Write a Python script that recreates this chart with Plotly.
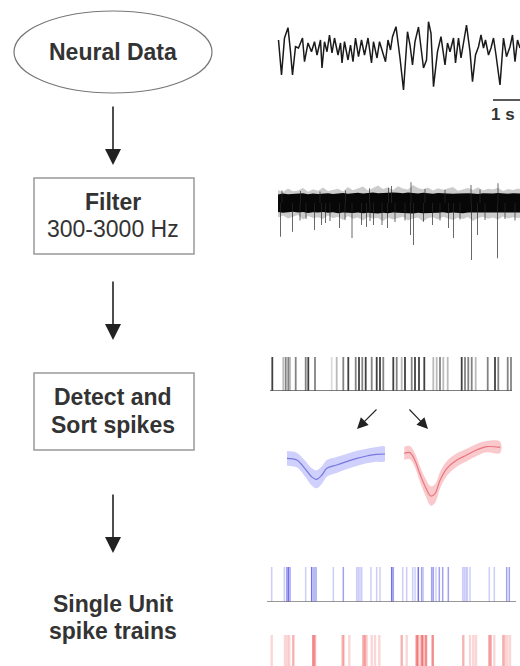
import plotly.graph_objects as go

W, H = 520, 666

# ---------------- data ----------------
# Wideband recording (time in s, voltage in µV)
raw_t = [0.17, 0.23, 0.29, 0.36, 0.41, 0.45, 0.51, 0.57, 0.65, 0.69,
         0.76, 0.83, 0.89, 0.94, 1.01, 1.04, 1.09, 1.14, 1.19, 1.24,
         1.29, 1.36, 1.41, 1.44, 1.49, 1.56, 1.61, 1.66, 1.71, 1.77,
         1.83, 1.89, 1.96, 2.03, 2.07, 2.14, 2.19, 2.26, 2.31, 2.36,
         2.41, 2.45, 2.52, 2.60, 2.67, 2.75, 2.80, 2.85, 2.90, 2.97,
         3.03, 3.07, 3.13, 3.17, 3.22, 3.27, 3.35, 3.42, 3.50, 3.55,
         3.60, 3.67, 3.71, 3.77, 3.82, 3.87, 3.93, 4.00, 4.05, 4.11,
         4.17, 4.22, 4.27, 4.31, 4.37, 4.42, 4.47, 4.52, 4.60, 4.67,
         4.73, 4.80, 4.85, 4.90, 4.95, 5.00]
raw_uv = [100, -250, 120, 223, -17, -250, 33, 20, 120, -117,
          70, -17, 83, -50, 100, -180, 83, -17, 150, -30,
          120, -50, 70, -130, 83, -100, 50, -117, 120, -67,
          100, -50, 120, -130, 83, -80, 83, -30, -117, 100,
          0, 133, 233, -80, -400, 183, 50, -150, 83, 230,
          -50, -180, -100, 283, 167, -367, -17, 133, -150, 70,
          -17, 120, -130, 120, -80, 83, 250, -17, -317, -50,
          33, 150, 20, 100, -50, 20, 120, -50, -350, 120,
          -67, 33, 150, -117, 100, 20]

# Band-passed (300-3000 Hz) trace: background noise envelope (s, µV)
filt_t = [0.16, 0.26, 0.36, 0.46, 0.56, 0.66, 0.76, 0.86, 0.96, 1.06,
          1.16, 1.26, 1.36, 1.46, 1.56, 1.66, 1.76, 1.86, 1.96, 2.06,
          2.16, 2.26, 2.36, 2.46, 2.56, 2.66, 2.76, 2.86, 2.96, 3.06,
          3.16, 3.26, 3.36, 3.46, 3.56, 3.66, 3.76, 3.86, 3.96, 4.06,
          4.16, 4.26, 4.36, 4.46, 4.56, 4.66, 4.76, 4.86, 4.96, 5.06]
filt_core_hi = [34, 38, 35, 37, 36, 39, 35, 38, 36, 37,
                39, 36, 38, 40, 37, 39, 41, 38, 40, 42,
                39, 41, 40, 42, 41, 39, 42, 40, 38, 41,
                39, 37, 40, 38, 39, 37, 38, 40, 39, 38,
                36, 39, 37, 38, 40, 38, 37, 39, 38, 38]
filt_core_lo = [-36, -39, -37, -35, -38, -36, -40, -37, -38, -36,
                -39, -37, -41, -38, -39, -40, -38, -41, -39, -40,
                -42, -39, -41, -38, -40, -39, -41, -42, -39, -41,
                -38, -40, -39, -37, -40, -38, -39, -41, -38, -39,
                -40, -38, -37, -39, -38, -40, -39, -37, -38, -38]
filt_edge_hi = [52, 44, 58, 47, 50, 60, 45, 55, 49, 62,
                48, 53, 57, 46, 64, 51, 58, 66, 50, 61,
                70, 56, 63, 52, 67, 58, 54, 72, 60, 55,
                62, 50, 59, 53, 57, 64, 49, 55, 60, 52,
                63, 50, 57, 54, 61, 48, 56, 52, 58, 54]
filt_edge_lo = [-58, -50, -62, -55, -48, -66, -52, -60, -57, -64,
                -50, -61, -55, -68, -52, -63, -58, -70, -56, -62,
                -60, -72, -58, -66, -60, -55, -70, -62, -58, -74,
                -60, -57, -66, -55, -62, -68, -58, -64, -56, -72,
                -60, -55, -63, -58, -66, -54, -62, -57, -60, -58]

# Large deflections on the filtered trace (s, peak µV)
event_t = [0.21, 0.24, 0.45, 0.60, 0.61, 0.72, 0.89, 1.00, 1.03, 1.11,
           1.20, 1.39, 1.50, 1.51, 1.64, 1.83, 1.93, 1.99, 2.00, 2.07,
           2.24, 2.35, 2.37, 2.43, 2.50, 2.70, 2.81, 2.82, 2.87, 3.07,
           3.10, 3.25, 3.40, 3.50, 3.57, 3.67, 3.80, 4.02, 4.03, 4.15,
           4.20, 4.30, 4.55, 4.56, 4.70, 4.90]
event_uv = [-135, 50, -115, -70, 48, -64, -108, 46, -88, -80,
            -72, -100, -68, 50, -140, -88, -96, 59, -72, -88,
            -88, -100, 61, 68, -76, -70, -128, 83, -168, -75,
            56, -88, -70, 52, -100, -140, -66, 72, -228, -128,
            54, -68, -221, 79, -64, -70]

# Detected spike times (s) and normalised peak amplitude
detected_t = [0.046, 0.266, 0.314, 0.366, 0.400, 0.514, 0.714, 0.766, 0.900, 1.234,
              1.334, 1.466, 1.566, 1.714, 1.780, 1.846, 1.914, 2.034, 2.134, 2.200,
              2.266, 2.466, 2.534, 2.634, 2.700, 2.834, 2.900, 2.980, 3.086, 3.266,
              3.334, 3.400, 3.466, 3.554, 3.834, 3.900, 3.966, 4.034, 4.114, 4.354,
              4.500, 4.566, 4.754, 4.820]
detected_amp = [0.85, 0.30, 0.55, 0.55, 0.30, 0.55, 0.55, 0.85, 0.55, 0.15,
                0.30, 0.55, 0.85, 0.55, 0.85, 0.55, 0.85, 0.55, 0.85, 0.85,
                0.55, 0.85, 0.55, 0.30, 0.85, 0.55, 0.85, 0.85, 0.85, 0.30,
                0.30, 0.55, 0.30, 0.30, 0.85, 0.55, 0.55, 0.55, 0.30, 0.55,
                0.85, 0.55, 0.55, 0.55]

# Mean waveform ± SD of each sorted unit (ms, µV)
unit1_ms = [0.00, 0.16, 0.29, 0.40, 0.48, 0.57, 0.65, 0.81, 0.97, 1.14, 1.30, 1.46, 1.60]
unit1_mean = [-10, -15, -40, -65, -73, -60, -40, -30, -20, -10, -3, 2, 3]
unit1_sd = [22, 22, 24, 26, 27, 26, 25, 24, 23, 23, 22, 22, 22]

unit2_ms = [0.02, 0.11, 0.19, 0.27, 0.36, 0.45, 0.52, 0.60, 0.71, 0.87, 1.03, 1.19, 1.35, 1.57]
unit2_mean = [5, 7, -15, -55, -95, -123, -115, -75, -40, -15, 0, 15, 25, 23]
unit2_sd = [20, 20, 21, 23, 26, 29, 28, 25, 22, 20, 19, 18, 17, 17]

# Spike trains of the two sorted units (s) with normalised amplitude
unit1_t = [0.034, 0.286, 0.334, 0.366, 0.400, 0.714, 0.834, 0.880, 0.920, 1.266,
           1.466, 1.734, 1.766, 1.800, 1.834, 2.020, 2.134, 2.200, 2.434, 2.466,
           2.654, 2.734, 2.854, 2.900, 2.966, 3.034, 3.066, 3.234, 3.266, 3.320,
           3.386, 3.454, 3.566, 3.854, 3.886, 3.920, 3.946, 4.000, 4.386, 4.486,
           4.734, 4.786]
unit1_amp = [0.30, 0.30, 0.55, 0.85, 0.55, 0.30, 0.85, 0.55, 0.55, 0.30,
             0.55, 0.30, 0.30, 0.30, 0.30, 0.30, 0.30, 0.30, 0.85, 0.55,
             0.30, 0.30, 0.30, 0.30, 0.85, 0.55, 0.30, 0.55, 0.55, 0.30,
             0.55, 0.55, 0.55, 0.30, 0.30, 0.30, 0.30, 0.30, 0.30, 0.30,
             0.55, 0.55]

unit2_t = [0.034, 0.300, 0.346, 0.386, 0.466, 0.866, 0.900, 1.454, 1.480, 1.586,
           1.866, 1.900, 1.934, 2.034, 2.100, 2.186, 2.634, 2.734, 2.934, 2.966,
           3.034, 3.066, 3.120, 3.254, 3.866, 4.000, 4.066, 4.120, 4.386, 4.414,
           4.486, 4.666, 4.700, 4.746, 4.800]
unit2_amp = [0.30, 0.30, 0.30, 0.30, 0.55, 0.85, 0.55, 0.55, 0.30, 0.30,
             0.55, 0.55, 0.30, 0.30, 0.30, 0.30, 0.55, 0.30, 0.85, 0.55,
             0.85, 0.55, 0.85, 0.85, 0.55, 0.30, 0.30, 0.30, 0.55, 0.55,
             0.30, 0.55, 0.30, 0.30, 0.30]

SCALE_BAR_S = 1.0

# ---------------- layout helpers ----------------
def px(x):
    return x / W


def py(y):
    return 1 - y / H


def ydom(top, bottom):
    return [py(bottom), py(top)]


FONT = "Liberation Sans, Arial, sans-serif"
TXT = "#333333"

fig = go.Figure()

# Wideband trace
fig.add_trace(go.Scatter(x=raw_t, y=raw_uv, mode="lines",
                         line=dict(color="#1a1a1a", width=1.5),
                         xaxis="x", yaxis="y", hoverinfo="skip"))
# Scale bar
bar_t0 = 4.46
fig.add_trace(go.Scatter(x=[bar_t0, bar_t0 + SCALE_BAR_S], y=[-500, -500], mode="lines",
                         line=dict(color="#222", width=1.6),
                         xaxis="x", yaxis="y", hoverinfo="skip"))


# Filtered trace: noise band + large deflections
def band(t, hi, lo):
    return list(t) + list(t)[::-1], list(hi) + list(lo)[::-1]


bx, by = band(filt_t, filt_edge_hi, filt_edge_lo)
fig.add_trace(go.Scatter(x=bx, y=by, fill="toself", mode="lines",
                         line=dict(width=0), fillcolor="rgba(0,0,0,0.2)",
                         xaxis="x", yaxis="y2", hoverinfo="skip"))
bx, by = band(filt_t, filt_core_hi, filt_core_lo)
fig.add_trace(go.Scatter(x=bx, y=by, fill="toself", mode="lines",
                         line=dict(width=0), fillcolor="rgba(0,0,0,0.97)",
                         xaxis="x", yaxis="y2", hoverinfo="skip"))
ex, ey = [], []
for t, v in zip(event_t, event_uv):
    ex += [t, t, None]
    ey += [0, v, None]
fig.add_trace(go.Scatter(x=ex, y=ey, mode="lines",
                         line=dict(color="rgba(40,40,40,0.7)", width=1),
                         xaxis="x", yaxis="y2", hoverinfo="skip"))


# Rasters
def raster(times, amps, rgb, width, yaxis, gain=1.0):
    for t, a in zip(times, amps):
        fig.add_trace(go.Scatter(x=[t, t], y=[0, 1], mode="lines",
                                 line=dict(color=f"rgba({rgb},{a * gain:.2f})", width=width),
                                 xaxis="x", yaxis=yaxis, hoverinfo="skip"))


raster(detected_t, detected_amp, "30,30,30", 1.8, "y3")
fig.add_trace(go.Scatter(x=[-0.0, 4.84], y=[0, 0], mode="lines",
                         line=dict(color="#555", width=1.5),
                         xaxis="x", yaxis="y3", hoverinfo="skip"))

raster(unit1_t, unit1_amp, "70,70,230", 1.5, "y4", gain=0.9)
fig.add_trace(go.Scatter(x=[-0.06, 4.92], y=[0, 0], mode="lines",
                         line=dict(color="#777", width=1.5),
                         xaxis="x", yaxis="y4", hoverinfo="skip"))

raster(unit2_t, unit2_amp, "235,60,60", 2.4, "y5", gain=0.7)


# Mean waveforms with ± SD bands
def waveform(ms, mean, sd, xaxis, fillc, linec):
    hi = [m + s for m, s in zip(mean, sd)]
    lo = [m - s for m, s in zip(mean, sd)]
    bx, by = band(ms, hi, lo)
    fig.add_trace(go.Scatter(x=bx, y=by, fill="toself", mode="lines",
                             line=dict(width=0, shape="spline"), fillcolor=fillc,
                             xaxis=xaxis, yaxis="y6", hoverinfo="skip"))
    fig.add_trace(go.Scatter(x=ms, y=mean, mode="lines",
                             line=dict(color=linec, width=1.2, shape="spline"),
                             xaxis=xaxis, yaxis="y6", hoverinfo="skip"))


waveform(unit1_ms, unit1_mean, unit1_sd, "x2", "rgba(110,110,250,0.32)", "rgba(90,90,215,0.75)")
waveform(unit2_ms, unit2_mean, unit2_sd, "x3", "rgba(240,100,110,0.35)", "rgba(225,90,100,0.75)")

# ---------------- axes ----------------
hidden = dict(visible=False, showgrid=False, zeroline=False, fixedrange=True)
fig.update_layout(
    width=W, height=H,
    margin=dict(l=0, r=0, t=0, b=0),
    paper_bgcolor="white", plot_bgcolor="white",
    showlegend=False,
    xaxis=dict(domain=[0, 1], range=[-5.4, 5.0], anchor="y", **hidden),
    yaxis=dict(domain=ydom(0, 125), range=[-750, 500], anchor="x", **hidden),
    yaxis2=dict(domain=ydom(140, 266), range=[-252, 252], anchor="x", **hidden),
    yaxis3=dict(domain=ydom(357, 391), range=[0, 1], anchor="x", **hidden),
    yaxis4=dict(domain=ydom(567, 602), range=[0, 1], anchor="x", **hidden),
    yaxis5=dict(domain=ydom(635, 666), range=[0.114, 1], anchor="x", **hidden),
    xaxis2=dict(domain=[px(287), px(385)], range=[0, 1.6], anchor="y6", **hidden),
    xaxis3=dict(domain=[px(403), px(502)], range=[0, 1.6], anchor="y6", **hidden),
    yaxis6=dict(domain=ydom(410, 510), range=[-165, 135], anchor="x2", **hidden),
)

# ---------------- flow chart ----------------
shapes = [
    dict(type="circle", xref="paper", yref="paper",
         x0=px(14), x1=px(212), y0=py(93), y1=py(11),
         line=dict(color="#777", width=1.2)),
    dict(type="rect", xref="paper", yref="paper",
         x0=px(34), x1=px(194), y0=py(254), y1=py(178),
         line=dict(color="#999", width=1.5)),
    dict(type="rect", xref="paper", yref="paper",
         x0=px(34), x1=px(194), y0=py(450), y1=py(373),
         line=dict(color="#999", width=1.5)),
]
fig.update_layout(shapes=shapes)

annotations = []


def label(text, x, y, size=23, bold=True):
    annotations.append(dict(
        text=f"<b>{text}</b>" if bold else text,
        x=px(x), y=py(y), xref="paper", yref="paper",
        xanchor="center", yanchor="middle", showarrow=False,
        font=dict(family=FONT, size=size, color=TXT)))


def arrow(x_tip, y_tip, dx, dy, size=2.0, width=1.6):
    annotations.append(dict(
        text="", x=px(x_tip), y=py(y_tip), xref="paper", yref="paper",
        ax=dx, ay=dy, showarrow=True, arrowhead=2, arrowsize=size,
        arrowwidth=width, arrowcolor="#222"))


label("Neural Data", 113, 52)
label("Filter", 113, 202)
label("300-3000 Hz", 113, 229, bold=False)
label("Detect and", 113, 397)
label("Sort spikes", 113, 425)
label("Single Unit", 113, 604)
label("spike trains", 113, 631)

arrow(113, 165, 0, -60)
arrow(113, 340, 0, -60)
arrow(113, 553, 0, -60)
arrow(357, 429, 21, -21, size=2.0, width=1.1)
arrow(428, 429, -20, -21, size=2.0, width=1.1)

# scale bar caption, kept inside the right edge
annotations.append(dict(
    text="<b>1 s</b>", x=px(517), y=py(115), xref="paper", yref="paper",
    xanchor="right", yanchor="middle", showarrow=False,
    font=dict(family=FONT, size=17, color=TXT)))

fig.update_layout(annotations=annotations)

fig.write_html("out.html", config=dict(displayModeBar=False))
